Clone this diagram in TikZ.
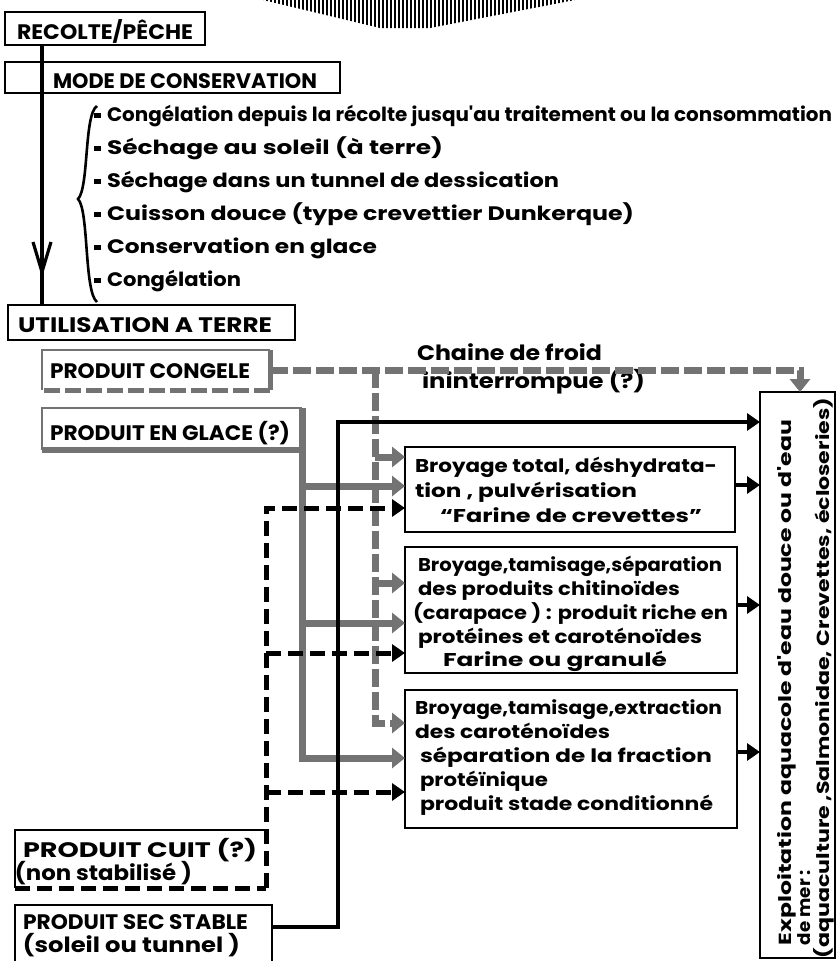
\documentclass[tikz,border=0pt]{standalone}
\usepackage{fontspec}
\usepackage{graphicx}
\newfontfamily\pf{Poppins}
\newcommand{\T}[2]{\resizebox{#1pt}{\height}{#2}}
\usetikzlibrary{arrows.meta}
\definecolor{gr}{gray}{0.45}
\begin{document}
\begin{tikzpicture}[x=1pt,y=-1pt,
  txt/.style={inner sep=0,outer sep=0,anchor=base west,font=\pf\bfseries\fontsize{19.5}{22}\selectfont},
  lab/.style={txt,font=\pf\bfseries\fontsize{21}{24}\selectfont},
  ptxt/.style={txt,font=\pf\bfseries\fontsize{18.5}{21}\selectfont},
  etxt/.style={txt,rotate=90,font=\pf\bfseries\fontsize{17.5}{20}\selectfont},
  area/.style={inner sep=0,outer sep=0,anchor=north west},
  kbox/.style={area,draw,line width=2.8},
  kline/.style={line width=3.8,line join=miter},
  kdash/.style={line width=5,dash pattern=on 15pt off 7pt},
  gline/.style={line width=7,draw=gr},
  gdash/.style={line width=7,draw=gr,dash pattern=on 18pt off 5pt},
  ktip/.style={-{Triangle[length=13pt,width=17pt]}},
  gtip/.style={-{Triangle[length=13pt,width=20pt,fill=gr,color=gr]}}]
\useasboundingbox (0,0) rectangle (837,961);

% hatched artifact at top
\begin{scope}
\clip (263,0) -- (575,0) -- (430,28) -- (380,28) -- cycle;
\foreach \i in {263,267,...,575} \draw[line width=1.6] (\i,0) -- (\i,30);
\end{scope}

% boxes
\node[kbox,minimum width=200,minimum height=33] (recolte) at (5,12) {};
\node[kbox,minimum width=335,minimum height=31] (mode) at (5,62) {};
\node[kbox,minimum width=287,minimum height=35] (util) at (8,305) {};
\node[area,minimum width=228,minimum height=40] (congele) at (42,350) {};
\node[area,minimum width=260,minimum height=42] (glace) at (42,408) {};
\node[area,minimum width=251,minimum height=58] (cuit) at (15,830) {};
\node[kbox,minimum width=257,minimum height=62] (sec) at (15,905) {};
\node[kbox,minimum width=330,minimum height=85] (b1) at (405,447) {};
\node[kbox,minimum width=332,minimum height=126] (b2) at (405,547) {};
\node[kbox,minimum width=332,minimum height=138] (b3) at (405,690) {};
\node[kbox,minimum width=75,minimum height=566] (expl) at (760,392) {};

% special borders
\draw[gr,line width=1.8] (congele.south west) -- (congele.north west) -- (congele.north east);
\draw[gr,line width=5] (congele.north east) -- (congele.south east);
\draw[gr,line width=5,dash pattern=on 16pt off 5pt] (congele.south east) -- (congele.south west);
\draw[gr,line width=1.8] (glace.south west) -- (glace.north west) -- (glace.north east);
\draw[gr,line width=6] (glace.south west) -- (glace.south east);
\draw[black,line width=2.5] (cuit.south west) -- (cuit.north west) -- (cuit.north east);
\draw[kdash] (cuit.south west) -- (cuit.south east);

% main vertical line with arrow
\coordinate (m1) at (42,45);
\coordinate (m2) at (42,305);
\coordinate (va) at (33,242);
\coordinate (vt) at (42,272);
\coordinate (vb) at (51,242);
\draw[line width=3.5] (m1) -- (m2);
\draw[line width=3.2,line join=miter] (va) -- (vt) -- (vb);

% brace
\draw[line width=2.6] (97,106) .. controls (84,114) and (89,188) .. (78,199) .. controls (89,210) and (84,292) .. (97,302);

% bullets
\foreach \y in {121,154,187,220,253,286} \fill (94,\y-8) rectangle (101,\y-3);
\node[txt] (l1) at (107,121) {\T{725}{Congélation depuis la récolte jusqu'au traitement ou la consommation}};
\node[txt] (l2) at (107,154) {\T{336}{Séchage au soleil (à terre)}};
\node[txt] (l3) at (107,187) {\T{452}{Séchage dans un tunnel de dessication}};
\node[txt] (l4) at (107,220) {\T{527}{Cuisson douce (type crevettier Dunkerque)}};
\node[txt] (l5) at (107,253) {\T{270}{Conservation en glace}};
\node[txt] (l6) at (107,286) {\T{134}{Congélation}};

% labels
\node[lab] (trec) at (17,39) {\T{176}{RECOLTE/PÊCHE}};
\node[lab] (tmode) at (53,88) {\T{264}{MODE DE CONSERVATION}};
\node[lab] (tutil) at (18,332) {\T{254}{UTILISATION A TERRE}};
\node[lab] (tcong) at (50,378) {\T{200}{PRODUIT CONGELE}};
\node[lab] (tglace) at (50,440) {\T{240}{PRODUIT EN GLACE (?)}};
\node[lab] (tcuit1) at (23,857) {\T{234}{PRODUIT CUIT (?)}};
\node[lab] (tcuit2) at (15,880) {\T{177}{(non stabilisé )}};
\node[lab] (tsec1) at (23,929) {\T{225}{PRODUIT SEC STABLE}};
\node[lab] (tsec2) at (23,952) {\T{217}{(soleil ou tunnel )}};
\node[lab] (tch1) at (417,360) {\T{185}{Chaine de froid}};
\node[lab] (tch2) at (422,388) {\T{223}{ininterrompue (?)}};

% box 1
\node[ptxt] (a1) at (415,472) {\T{302}{Broyage total, déshydrata-}};
\node[ptxt] (a2) at (415,497) {\T{222}{tion , pulvérisation}};
\node[ptxt] (a3) at (440,522) {\T{262}{“Farine de crevettes”}};
% box 2
\node[ptxt] (c1) at (418,571) {\T{304}{Broyage,tamisage,séparation}};
\node[ptxt] (c2) at (418,595) {\T{262}{des produits chitinoïdes}};
\node[ptxt] (c3) at (413,619) {\T{315}{(carapace ) : produit riche en}};
\node[ptxt] (c4) at (418,643) {\T{284}{protéines et caroténoïdes}};
\node[ptxt] (c5) at (443,666) {\T{224}{Farine ou granulé}};
% box 3
\node[ptxt] (d1) at (415,714) {\T{307}{Broyage,tamisage,extraction}};
\node[ptxt] (d2) at (415,738) {\T{195}{des caroténoïdes}};
\node[ptxt] (d3) at (420,762) {\T{292}{séparation de la fraction}};
\node[ptxt] (d4) at (420,786) {\T{128}{protéïnique}};
\node[ptxt] (d5) at (420,810) {\T{293}{produit stade conditionné}};

% exploitation text
\node[etxt] (e1) at (791,945) {\T{525}{Exploitation aquacole d'eau douce ou d'eau}};
\node[etxt] (e2) at (810,945) {\T{75}{de mer :}};
\node[etxt] (e3) at (829,958) {\T{560}{(aquaculture ,Salmonidae, Crevettes, écloseries)}};

% gray solid (produit en glace)
\coordinate (g1) at (302,486);
\coordinate (g2) at (302,623);
\coordinate (g3) at (302,758);
\draw[gline,gtip] (glace.north east) -- (g3) -- (b3.west |- g3);
\draw[gline,gtip] (g1) -- (b1.west |- g1);
\draw[gline,gtip] (g2) -- (b2.west |- g2);

% gray dashed (chaine de froid)
\coordinate (f1) at (800,370);
\coordinate (fv) at (375,370);
\coordinate (fa) at (375,457);
\coordinate (fb) at (375,583);
\coordinate (fc) at (375,723);
\draw[gdash,gtip] (congele.east) -- (f1) -- (f1 |- expl.north);
\draw[gdash,gtip] (fv) -- (fc) -- (b3.west |- fc);
\draw[gdash,gtip] (fa) -- (b1.west |- fa);
\draw[gdash,gtip] (fb) -- (b2.west |- fb);

% black dashed (produit cuit)
\coordinate (k0) at (266,508);
\coordinate (k1) at (266,653);
\coordinate (k2) at (266,792);
\draw[kdash,ktip] (cuit.south east) -- (k0) -- (b1.west |- k0);
\draw[kdash,ktip] (k1) -- (b2.west |- k1);
\draw[kdash,ktip] (k2) -- (b3.west |- k2);

% black solid (produit sec)
\coordinate (s1) at (338,927);
\coordinate (s2) at (338,422);
\draw[kline,ktip] (sec.east |- s1) -- (s1) -- (s2) -- (expl.west |- s2);

% outputs
\coordinate (o1) at (735,485);
\coordinate (o2) at (737,605);
\coordinate (o3) at (737,752);
\draw[kline,ktip] (b1.east |- o1) -- (expl.west |- o1);
\draw[kline,ktip] (b2.east |- o2) -- (expl.west |- o2);
\draw[kline,ktip] (b3.east |- o3) -- (expl.west |- o3);
\end{tikzpicture}
\end{document}
